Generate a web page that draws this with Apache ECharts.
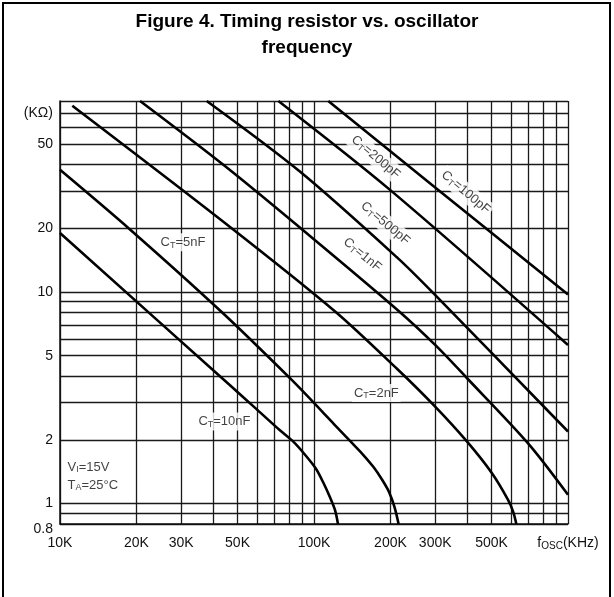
<!DOCTYPE html>
<html>
<head>
<meta charset="utf-8">
<script src="https://cdn.jsdelivr.net/npm/echarts@6/dist/echarts.min.js"></script>
<style>
html,body{margin:0;padding:0;background:#fff;}
#c{width:614px;height:597px;}
</style>
</head>
<body>
<div id="c"></div>
<script>
// ---- data (frequency in kHz, resistance in kOhm) ----
const xGrid = [10,20,30,40,50,60,70,80,90,100,200,300,400,500,600,700,800,900,1000];
const yGrid = [0.8,0.9,1,2,3,4,5,6,7,8,9,10,20,30,40,50,60,70,80];
const xLabels = [10,20,30,50,100,200,300,500,1000];
const yLabels = [0.8,1,2,5,10,20,50,70];

const ct10nF  = [[10,19],[46.7,3.62],[58.5,2.84],[73.4,2.22],[82.9,1.96],[92.2,1.70],[101.8,1.46],[109,1.25],[115.6,1.07],[121,0.93],[124.3,0.8]];
const ct5nF   = [[10,37.8],[18.86,19.75],[43.3,8.04],[81.7,3.84],[105.9,2.78],[121.1,2.34],[138.6,1.976],[155.2,1.714],[171.5,1.487],[185.2,1.298],[197.4,1.134],[207.5,0.962],[215.3,0.8]];
const ct2nF   = [[11.18,76],[44.6,21.2],[121.1,8.09],[213.2,4.31],[299.9,2.87],[400.6,1.96],[502,1.39],[580.8,1.04],[609,0.911],[626,0.8]];
const ct1nF   = [[20.66,80],[44.6,39.4],[96.4,18.4],[213.2,8.22],[299.9,5.62],[400.6,3.91],[697.6,1.92],[1000,1.10]];
const ct500pF = [[37.8,80],[88,37.1],[213.2,14.5],[295.7,9.85],[1000,2.19]];
const ct200pF = [[72.4,80],[199.2,30.4],[1000,5.62]];
const ct100pF = [[113.8,80],[299.9,31.2],[1000,9.74]];

const curveNames = ['10nF','5nF','2nF','1nF','500pF','200pF','100pF'];
const curves = [ct10nF, ct5nF, ct2nF, ct1nF, ct500pF, ct200pF, ct100pF];

// annotation anchors [f, R] and rotation
const annot = [
  {text:'{m|C}{s|T}{m|=5nF}',   at:[30.5,17.2],  rot:0},
  {text:'{m|C}{s|T}{m|=10nF}',  at:[44.4,2.44],  rot:0},
  {text:'{m|C}{s|T}{m|=2nF}',   at:[176,3.33],   rot:0},
  {text:'{m|C}{s|T}{m|=200pF}', at:[175,43.4],   rot:-40},
  {text:'{m|C}{s|T}{m|=100pF}', at:[396,29.6],   rot:-40},
  {text:'{m|C}{s|T}{m|=500pF}', at:[191,21.1],   rot:-40},
  {text:'{m|C}{s|T}{m|=1nF}',   at:[155,15.0],   rot:-40}
];
const condText = '{m|V}{s|I}{m|=15V}\n{m|T}{s|A}{m|=25°C}';
const condAt = [10.75,1.35];
const titleText = 'Figure 4. Timing resistor vs. oscillator\nfrequency';

const FONT = "'Liberation Sans',Arial,sans-serif";
const richLbl = {
  m:{fontFamily:FONT, fontSize:13, color:'#111', lineHeight:18},
  s:{fontFamily:FONT, fontSize:9, color:'#111', lineHeight:18, padding:[6,0,0,0]}
};

const chart = echarts.init(document.getElementById('c'), null, {renderer:'canvas'});

const series = curves.map((d,i)=>({
  name: curveNames[i],
  type:'line',
  data:d,
  smooth:0.3,
  showSymbol:false,
  clip:true,
  lineStyle:{color:'#000', width:2.6},
  z:3
}));

series.push({
  name:'labels',
  type:'scatter',
  symbolSize:1,
  itemStyle:{color:'rgba(0,0,0,0)'},
  z:2,
  data: annot.map(a=>({
    value:a.at,
    label:{show:true, position:'inside', formatter:a.text, rotate:a.rot,
      backgroundColor:'#fff', padding:[0,2,0,2], rich:richLbl}
  })).concat([{
    value:condAt,
    label:{show:true, position:'right', distance:-1, formatter:condText, align:'left',
      backgroundColor:'#fff', padding:[0,2,0,0], rich:richLbl}
  }])
});

chart.setOption({
  animation:false,
  backgroundColor:'#fff',
  grid:{left:60, right:46, top:101, bottom:73},
  xAxis:{
    type:'log', logBase:10, min:10, max:1000,
    axisLine:{show:true, onZero:false, lineStyle:{color:'#111', width:1.5}},
    axisTick:{show:false, customValues:xGrid},
    splitLine:{show:true, lineStyle:{color:'#1a1a1a', width:1.3}},
    axisLabel:{
      customValues:xLabels, margin:12,
      fontFamily:FONT, fontSize:14, color:'#111',
      formatter:function(v){ return v>=1000 ? '{f|f}{sub|OSC}{f|(KHz)}' : (v+'K'); },
      rich:{f:{fontFamily:FONT,fontSize:14,color:'#111'}, sub:{fontFamily:FONT,fontSize:10,color:'#111',padding:[5,0,0,0]}}
    }
  },
  yAxis:{
    type:'log', logBase:10, min:0.8, max:80,
    axisLine:{show:true, onZero:false, lineStyle:{color:'#111', width:1.5}},
    axisTick:{show:false, customValues:yGrid},
    splitLine:{show:true, lineStyle:{color:'#1a1a1a', width:1.3}},
    axisLabel:{
      customValues:yLabels, margin:7,
      fontFamily:FONT, fontSize:14, color:'#111',
      formatter:function(v){ if (v===70) return '(KΩ)'; if (v===0.8) return '{lo|0.8}'; return String(v); },
      rich:{lo:{fontFamily:FONT,fontSize:14,color:'#111',padding:[10,0,0,0]}}
    }
  },
  graphic:[
    {
      type:'text', silent:true, z:100, x:307, y:9,
      style:{text:titleText, align:'center', verticalAlign:'top',
        font:"bold 19px 'Liberation Sans', Arial, sans-serif", lineHeight:26, fill:'#000'}
    },
    {
      type:'rect', silent:true, z:100,
      shape:{x:3, y:3, width:607, height:600},
      style:{fill:null, stroke:'#000', lineWidth:2}
    }
  ],
  series:series
});
</script>
</body>
</html>
